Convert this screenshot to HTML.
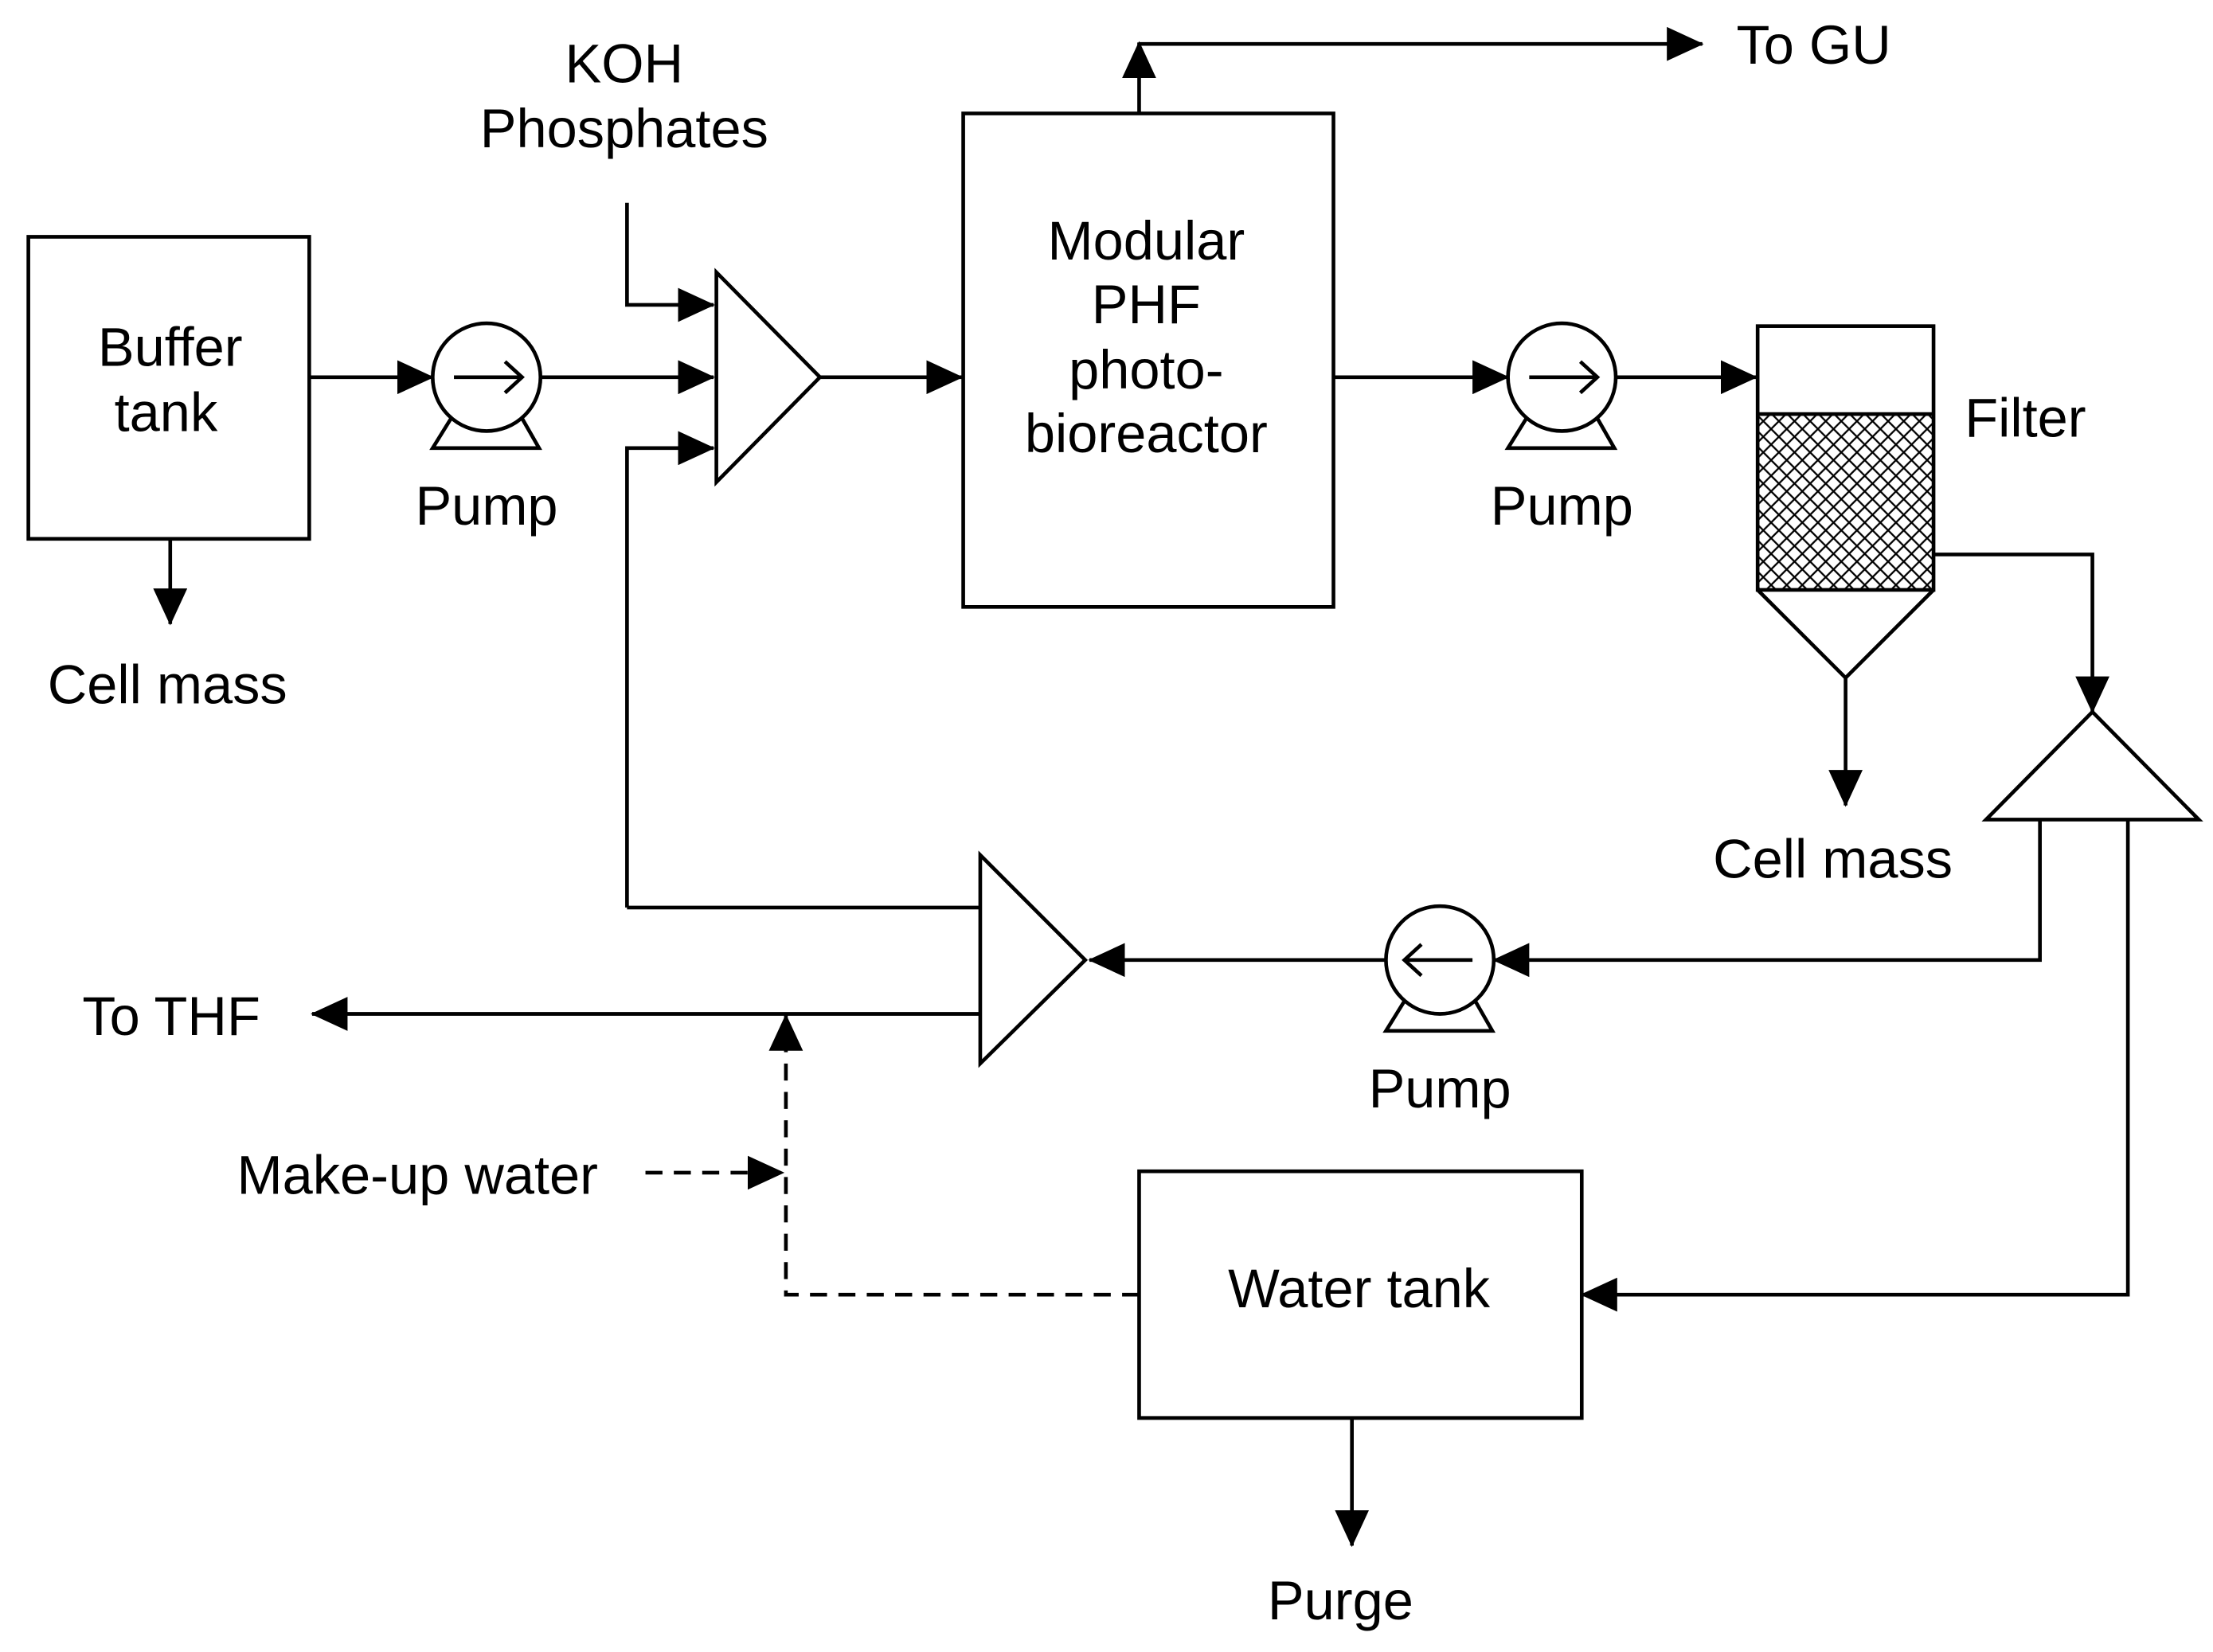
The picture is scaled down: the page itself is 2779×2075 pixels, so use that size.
<!DOCTYPE html>
<html><head><meta charset="utf-8"><style>
html,body{margin:0;padding:0;background:#fff}
svg{display:block}
text{font-family:"Liberation Sans",Arial,sans-serif;font-size:38.5px;fill:#000}
</style></head><body>
<svg width="2779" height="2075" viewBox="0 0 1560 1165" preserveAspectRatio="none" xmlns="http://www.w3.org/2000/svg">
<defs>
<marker id="a" markerWidth="26" markerHeight="24" refX="25" refY="12" orient="auto" markerUnits="userSpaceOnUse">
<path d="M0,0 L26,12 L0,24 Z" fill="#000"/></marker>
<pattern id="h" width="11" height="11" patternUnits="userSpaceOnUse">
<path d="M0,0 L11,11 M11,0 L0,11" stroke="#000" stroke-width="1.3"/></pattern>
</defs>
<g fill="none" stroke="#000" stroke-width="2.6">
<rect x="20" y="167" width="198" height="213"/>
<path d="M120,380 V440" marker-end="url(#a)"/>
<path d="M218,266 H305" marker-end="url(#a)"/>
<circle cx="343" cy="266" r="38"/>
<path d="M318,295 L305,316 H380 L368,295"/>
<path d="M320,266 H366 M356,255 L368,266 L356,277"/>
<path d="M381,266 H503" marker-end="url(#a)"/>
<path d="M505,192 V340 L578,266 Z"/>
<path d="M442,143 V215 H503" marker-end="url(#a)"/>
<path d="M442,640 V316 H503" marker-end="url(#a)"/>
<path d="M578,266 H678" marker-end="url(#a)"/>
<rect x="679" y="80" width="261" height="348"/>
<path d="M803,80 V30" marker-end="url(#a)"/>
<path d="M803,31 H1200" marker-end="url(#a)"/>
<path d="M940,266 H1063" marker-end="url(#a)"/>
<circle cx="1101" cy="266" r="38"/>
<path d="M1076,295 L1063,316 H1138 L1126,295"/>
<path d="M1078,266 H1124 M1114,255 L1126,266 L1114,277"/>
<path d="M1140,266 H1238" marker-end="url(#a)"/>
<rect x="1239" y="292" width="124" height="124" fill="url(#h)" stroke="none"/>
<rect x="1239" y="230" width="124" height="186"/>
<path d="M1239,292 H1363"/>
<path d="M1239,416 L1301,478 L1363,416"/>
<path d="M1301,478 V568" marker-end="url(#a)"/>
<path d="M1363,391 H1475 V502" marker-end="url(#a)"/>
<path d="M1475,502 L1400,578 H1550 Z"/>
<path d="M1438,578 V677 H1053" marker-end="url(#a)"/>
<circle cx="1015" cy="677" r="38"/>
<path d="M990,706 L977,727 H1052 L1040,706"/>
<path d="M1038,677 H992 M1002,666 L990,677 L1002,688"/>
<path d="M977,677 H768" marker-end="url(#a)"/>
<path d="M691,603 V750 L765,677 Z"/>
<path d="M691,640 H442"/>
<path d="M691,715 H220" marker-end="url(#a)"/>
<path d="M803,913 H554 V716" stroke-dasharray="12,8" marker-end="url(#a)"/>
<path d="M455,827 H552" stroke-dasharray="12,8" marker-end="url(#a)"/>
<path d="M1500,578 V913 H1115" marker-end="url(#a)"/>
<rect x="803" y="826" width="312" height="174"/>
<path d="M953,1000 V1090" marker-end="url(#a)"/>
</g>
<g text-anchor="middle">
<text x="120" y="258">Buffer</text>
<text x="117" y="304">tank</text>
<text x="118" y="496">Cell mass</text>
<text x="343" y="370">Pump</text>
<text x="440" y="58">KOH</text>
<text x="440" y="104">Phosphates</text>
<text x="808" y="183">Modular</text>
<text x="808" y="228">PHF</text>
<text x="808" y="274">photo-</text>
<text x="808" y="319">bioreactor</text>
<text x="1101" y="370">Pump</text>
<text x="1292" y="619">Cell mass</text>
<text x="1015" y="781">Pump</text>
<text x="958" y="922">Water tank</text>
<text x="945" y="1142">Purge</text>
</g>
<text x="1224" y="45">To GU</text>
<text x="1385" y="308">Filter</text>
<text x="58" y="730">To THF</text>
<text x="167" y="842">Make-up water</text>
</svg>
</body></html>
